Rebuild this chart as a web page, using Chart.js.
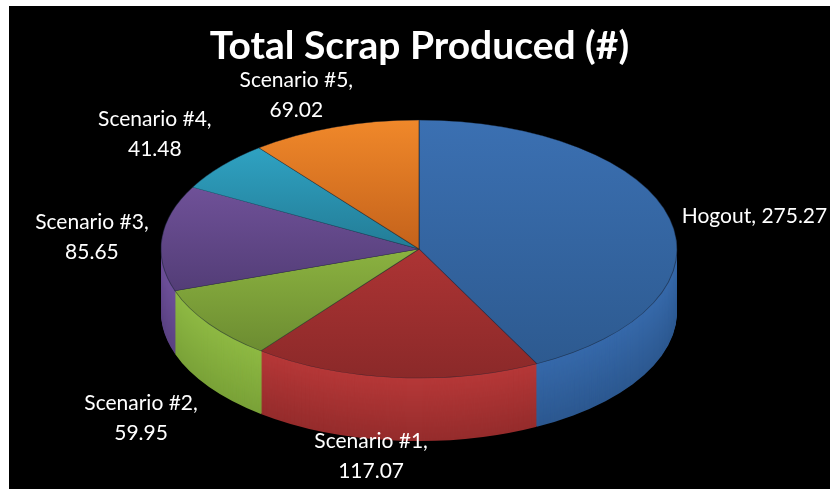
<!DOCTYPE html>
<html>
<head>
<meta charset="utf-8">
<script src="https://cdn.jsdelivr.net/npm/chart.js@4.4.1/dist/chart.umd.min.js"></script>
<style>
  html, body { margin: 0; padding: 0; background: #ffffff; width: 830px; height: 489px; overflow: hidden; }
  #frame { position: absolute; left: 9px; top: 6px; right: 0; bottom: 0; background: #000000; }
  #chart { position: absolute; left: 0; top: 0; }
</style>
</head>
<body>
<div id="frame"></div>
<canvas id="chart" width="830" height="489"></canvas>
<script>
// Scrap totals per scenario
const categories = ['Hogout', 'Scenario #1', 'Scenario #2', 'Scenario #3', 'Scenario #4', 'Scenario #5'];
const scrapValues = [275.27, 117.07, 59.95, 85.65, 41.48, 69.02];

// Slice shading: top face (light -> dark) and side wall (light -> dark)
const topLight  = ['#3b70b2', '#ad3434', '#8bb240', '#6f5198', '#2fa2c2', '#f0882a'];
const topDark   = ['#2d5a90', '#8b2929', '#6c8c31', '#533d77', '#237c96', '#c4621b'];
const sideLight = ['#3669aa', '#b63838', '#8eb943', '#6e509a', '#2e9fbe', '#ee862a'];
const sideDark  = ['#2c5890', '#952c2c', '#7aa238', '#5a4282', '#24819b', '#c86a20'];

// Label placement relative to each slice's rim point: [dx, dy, align]
const labelOffsets = [[12, 4, 'left'], [-24, 8, 'center'], [-68, 23, 'center'],
                      [-70, -9, 'center'], [-67, -40, 'center'], [-38, -40, 'center']];

// Tilted pie geometry on the page
const PIE = { cx: 419, cy: 249, rx: 258, ry: 129, depth: 63 };
const LABEL_FONT = '21px Lato';
const LINE_GAP = 30;

function hexToRgb(h) {
  const n = parseInt(h.slice(1), 16);
  return [(n >> 16) & 255, (n >> 8) & 255, n & 255];
}
function mix(a, b, t) {
  const x = hexToRgb(a), y = hexToRgb(b);
  return 'rgb(' + x.map((v, i) => Math.round(v + (y[i] - v) * t)).join(',') + ')';
}

// Map the library's circular pie onto the tilted ellipse
function applyTilt(ctx, arc, dy) {
  const p = arc.getProps(['x', 'y', 'outerRadius'], true);
  ctx.translate(PIE.cx, PIE.cy + dy);
  ctx.scale(PIE.rx / p.outerRadius, PIE.ry / p.outerRadius);
  ctx.translate(-p.x, -p.y);
}

function arcYRange(arc) {
  const p = arc.getProps(['x', 'y', 'startAngle', 'endAngle', 'outerRadius'], true);
  const ys = [p.y, p.y + p.outerRadius * Math.sin(p.startAngle), p.y + p.outerRadius * Math.sin(p.endAngle)];
  [Math.PI / 2, -Math.PI / 2, 3 * Math.PI / 2].forEach(a => {
    if (a >= p.startAngle && a <= p.endAngle) ys.push(p.y + p.outerRadius * Math.sin(a));
  });
  return [Math.min(...ys), Math.max(...ys)];
}

function drawArcWith(ctx, arc, fill, dy, withBorder) {
  const saved = arc.options;
  arc.options = Object.assign({}, saved, { backgroundColor: fill, borderWidth: withBorder ? saved.borderWidth : 0 });
  ctx.save();
  applyTilt(ctx, arc, dy);
  arc.draw(ctx);
  ctx.restore();
  arc.options = saved;
}

const tiltedPie = {
  id: 'tiltedPie',
  beforeDatasetsDraw(chart) {
    const ctx = chart.ctx;
    const arcs = chart.getDatasetMeta(0).data;
    // side wall: stacked copies of the slices, lowest first
    for (let d = PIE.depth; d >= 1; d--) {
      const t = d / PIE.depth;
      arcs.forEach((arc, i) => drawArcWith(ctx, arc, mix(sideLight[i], sideDark[i], t), d, false));
    }
    // top face with a vertical shade per slice
    arcs.forEach((arc, i) => {
      const [y0, y1] = arcYRange(arc);
      const g = ctx.createLinearGradient(0, y0, 0, y1);
      g.addColorStop(0, topLight[i]);
      g.addColorStop(1, topDark[i]);
      drawArcWith(ctx, arc, g, 0, true);
    });
    return false;
  },
  afterDraw(chart) {
    const ctx = chart.ctx;
    const arcs = chart.getDatasetMeta(0).data;
    ctx.save();
    ctx.font = LABEL_FONT;
    ctx.fillStyle = '#ffffff';
    ctx.textBaseline = 'alphabetic';
    arcs.forEach((arc, i) => {
      const p = arc.getProps(['startAngle', 'endAngle'], true);
      const mid = (p.startAngle + p.endAngle) / 2;
      let ax = PIE.cx + PIE.rx * Math.cos(mid);
      let ay = PIE.cy + PIE.ry * Math.sin(mid);
      if (Math.sin(mid) > 0) ay += PIE.depth;
      const [dx, dy, align] = labelOffsets[i];
      const value = scrapValues[i].toFixed(2);
      ctx.textAlign = align;
      if (align === 'left') {
        ctx.fillText(categories[i] + ', ' + value, ax + dx, ay + dy);
      } else {
        ctx.fillText(categories[i] + ',', ax + dx, ay + dy);
        ctx.fillText(value, ax + dx, ay + dy + LINE_GAP);
      }
    });
    ctx.restore();
  }
};

new Chart(document.getElementById('chart'), {
  type: 'pie',
  data: {
    labels: categories,
    datasets: [{
      data: scrapValues,
      backgroundColor: topLight,
      borderColor: 'rgba(20,30,45,0.55)',
      borderWidth: 0.8
    }]
  },
  options: {
    responsive: false,
    devicePixelRatio: 1,
    animation: false,
    events: [],
    rotation: 0,
    layout: { padding: { left: 9, top: 6, right: 0, bottom: 0 } },
    plugins: {
      legend: { display: false },
      tooltip: { enabled: false },
      title: {
        display: true,
        text: 'Total Scrap Produced (#)',
        color: '#ffffff',
        font: { family: 'Lato', size: 39, weight: 'bold' },
        padding: { top: 17, bottom: 10 }
      }
    }
  },
  plugins: [tiltedPie]
});
</script>
</body>
</html>
